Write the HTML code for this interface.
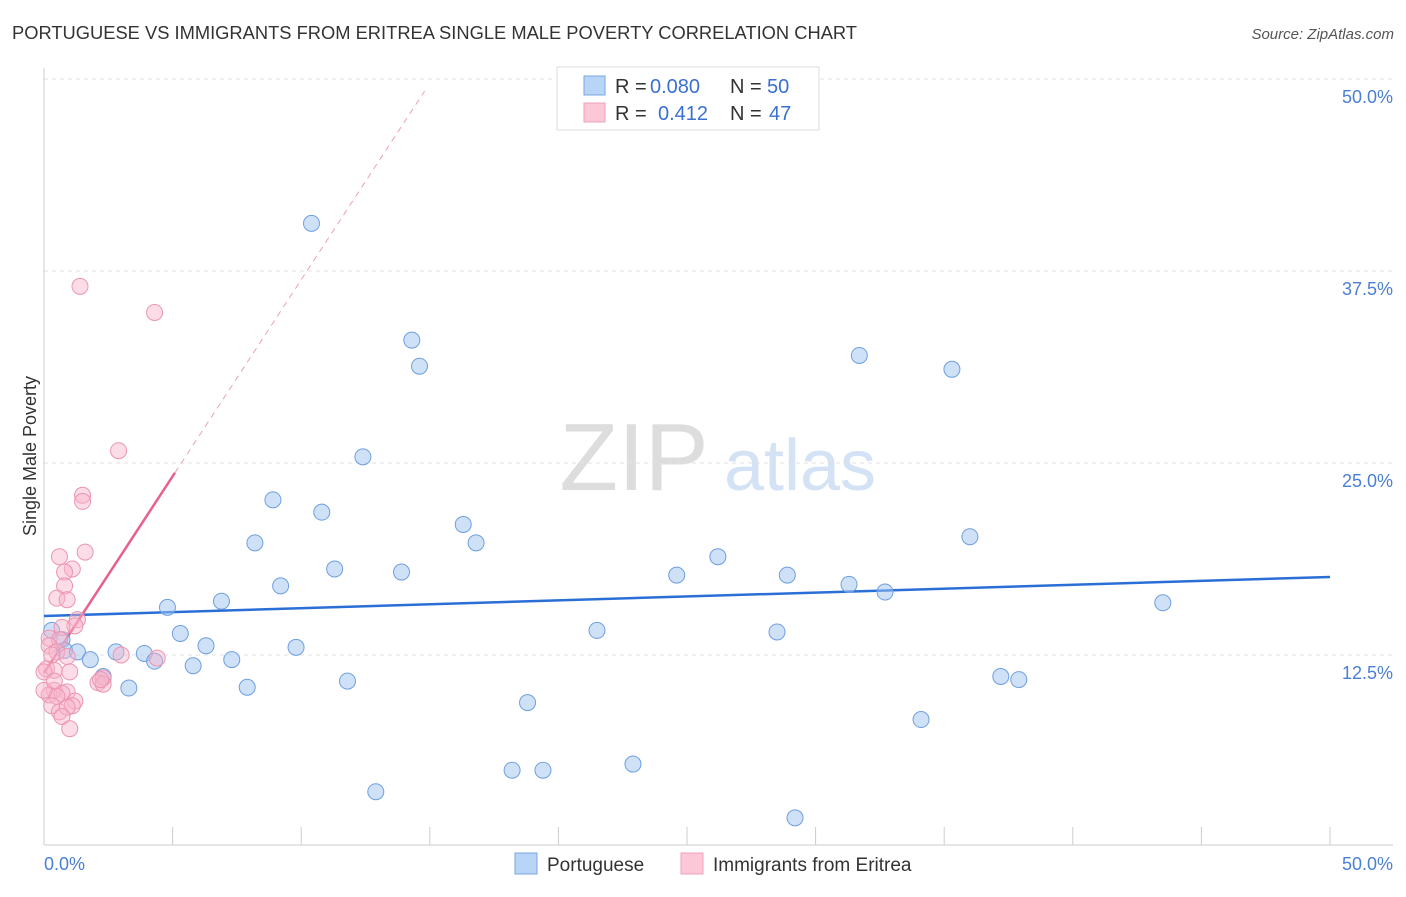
<!DOCTYPE html>
<html><head><meta charset="utf-8"><style>
body{margin:0;background:#fff;font-family:"Liberation Sans",sans-serif;}
svg text{font-family:"Liberation Sans",sans-serif;}
</style></head><body>
<svg id="chart" width="1406" height="892" xmlns="http://www.w3.org/2000/svg">
<text x="12" y="39" font-size="18" fill="#333" textLength="845" lengthAdjust="spacingAndGlyphs">PORTUGUESE VS IMMIGRANTS FROM ERITREA SINGLE MALE POVERTY CORRELATION CHART</text>
<text x="1394" y="39" font-size="15" fill="#555" text-anchor="end" font-style="italic">Source: ZipAtlas.com</text>
<g>
<text x="634" y="490" font-size="96" fill="#ddd" text-anchor="middle" font-family="Liberation Serif, serif">ZIP</text>
<text x="800" y="490" font-size="72" fill="#d3e2f4" text-anchor="middle">atlas</text>
</g>
<g id="grid"></g>
<g id="axes"></g>
<g id="trends"></g>
<g id="pts"></g>
<text x="36" y="456" font-size="18" fill="#333" text-anchor="middle" transform="rotate(-90 36 456)">Single Male Poverty</text>
<text x="44" y="870" font-size="18" fill="#4a7fd4">0.0%</text>
<text x="1393" y="870" font-size="18" fill="#4a7fd4" text-anchor="end">50.0%</text>
<g>
<rect x="557" y="67" width="262" height="63" fill="#fff" stroke="#ddd"/>
<rect x="584" y="76" width="21" height="19" fill="#b8d4f6" stroke="#7aa6e4"/>
<rect x="584" y="103" width="21" height="19" fill="#fcc8d8" stroke="#eea0b8"/>
<text x="615" y="93" font-size="20" fill="#333">R =</text>
<text x="650" y="93" font-size="20" fill="#3a70d0">0.080</text>
<text x="730" y="93" font-size="20" fill="#333">N =</text>
<text x="767" y="93" font-size="20" fill="#3a70d0">50</text>
<text x="615" y="120" font-size="20" fill="#333">R =</text>
<text x="658" y="120" font-size="20" fill="#3a70d0">0.412</text>
<text x="730" y="120" font-size="20" fill="#333">N =</text>
<text x="769" y="120" font-size="20" fill="#3a70d0">47</text>
</g>
<g>
<rect x="515" y="853" width="22" height="21" fill="#b8d4f6" stroke="#7aa6e4"/>
<text x="547" y="871" font-size="19" fill="#333">Portuguese</text>
<rect x="681" y="853" width="22" height="21" fill="#fcc8d8" stroke="#eea0b8"/>
<text x="713" y="871" font-size="19" fill="#333">Immigrants from Eritrea</text>
</g>
</svg>
<script>
const yTicks=[12.5,25,37.5,50];
const xTicks=[0,5,10,15,20,25,30,35,40,45,50];
const blueX=[10.4,14.3,14.6,31.7,35.3,12.4,8.9,10.8,16.3,16.8,8.2,36.0,26.2,11.3,13.9,24.6,28.9,31.3,9.2,32.7,43.5,6.9,4.8,21.5,5.3,28.5,6.3,9.8,0.3,0.7,0.8,1.3,1.8,2.8,3.9,4.3,5.8,7.3,2.3,3.3,7.9,11.8,37.2,37.9,18.8,34.1,18.2,19.4,22.9,12.9,29.2];
const blueY=[40.6,33.0,31.3,32.0,31.1,25.4,22.6,21.8,21.0,19.8,19.8,20.2,18.9,18.1,17.9,17.7,17.7,17.1,17.0,16.6,15.9,16.0,15.6,14.1,13.9,14.0,13.1,13.0,14.1,13.5,12.8,12.7,12.2,12.7,12.6,12.1,11.8,12.2,11.1,10.35,10.4,10.8,11.1,10.9,9.4,8.3,5.0,5.0,5.4,3.6,1.9];
const pinkX=[1.4,4.3,2.9,1.5,1.5,1.6,0.6,1.1,0.8,0.8,0.5,0.9,1.3,1.2,0.7,0.2,0.6,0.2,0.5,0.3,0.9,3.0,4.4,0.1,0.4,1.0,0.0,2.3,2.1,2.3,0.4,0.9,0.2,0.7,0.5,1.2,0.3,1.1,0.6,0.9,0.7,1.0,0.0,2.2,0.4];
const pinkY=[36.5,34.8,25.8,22.9,22.5,19.2,18.9,18.1,17.9,17.0,16.2,16.1,14.8,14.4,14.3,13.6,13.5,13.1,12.7,12.5,12.4,12.5,12.3,11.6,11.5,11.4,11.4,11.0,10.7,10.6,10.2,10.1,9.9,10.0,9.8,9.5,9.2,9.2,8.8,9.1,8.5,7.7,10.2,10.9,10.8];
const blueTrend=[15.04,17.58];
const pinkTrend=[11.33,2.56];
const NS="http://www.w3.org/2000/svg";
const sx=v=>44+v*25.72, sy=v=>847-v*15.36;
function mk(t,a,p){const e=document.createElementNS(NS,t);for(const k in a)e.setAttribute(k,a[k]);document.getElementById(p).appendChild(e);return e;}
yTicks.forEach(t=>{
 const l=mk('line',{x1:44,x2:1393,y1:sy(t),y2:sy(t),stroke:'#e2e2e2','stroke-dasharray':'4,4'},'grid');
 
 
 const tx=mk('text',{x:1393,y:sy(t)+24,'font-size':18,fill:'#4a7fd4','text-anchor':'end'},'grid');
 tx.textContent=t.toFixed(1)+'%';
 
 
});
let a=mk('line',{x1:44,x2:44,y1:68,y2:845,stroke:'#ccc'},'axes');


a=mk('line',{x1:44,x2:1393,y1:845,y2:845,stroke:'#ccc'},'axes');


xTicks.forEach(t=>{const l=mk('line',{x1:sx(t),x2:sx(t),y1:827,y2:845,stroke:'#ccc'},'axes');
 
 });
let tl=mk('line',{x1:sx(0),y1:sy(blueTrend[0]),x2:sx(50),y2:sy(blueTrend[1]),stroke:'#2a6fd6','stroke-width':2.5},'trends');


const pe=5.09, pd=14.8;
tl=mk('line',{x1:sx(pe),y1:sy(pinkTrend[0]+pinkTrend[1]*pe),x2:sx(pd),y2:sy(pinkTrend[0]+pinkTrend[1]*pd),stroke:'#eaa0b8','stroke-width':1,'stroke-dasharray':'6,5'},'trends');


tl=mk('line',{x1:sx(0),y1:sy(pinkTrend[0]),x2:sx(pe),y2:sy(pinkTrend[0]+pinkTrend[1]*pe),stroke:'#e8608e','stroke-width':2.5},'trends');


blueX.forEach((x,i)=>{const c=mk('circle',{cx:sx(x),cy:sy(blueY[i]),r:8,fill:'rgba(160,196,240,0.5)',stroke:'#6e9fe0','stroke-width':1},'pts');
 
 });
pinkX.forEach((x,i)=>{const c=mk('circle',{cx:sx(x),cy:sy(pinkY[i]),r:8,fill:'rgba(248,180,202,0.45)',stroke:'#ec94b0','stroke-width':1},'pts');
 
 });
</script>
</body></html>
